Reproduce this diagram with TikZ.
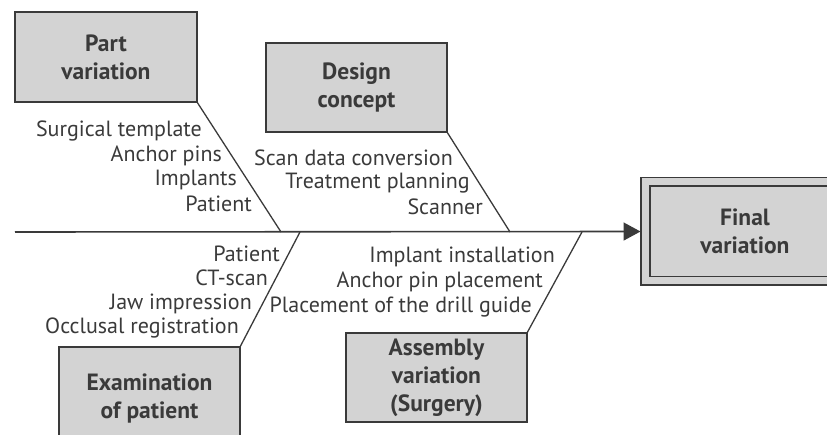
\documentclass[tikz,border=0pt]{standalone}
\usepackage{fontspec}
\setmainfont{PT Sans}
\usepackage{xcolor}
\usetikzlibrary{arrows.meta}

\definecolor{boxgray}{RGB}{211,211,211}
\definecolor{inkgray}{RGB}{58,58,58}

\tikzset{
  cause/.style={draw=inkgray, line width=1.6pt, fill=boxgray, text=inkgray,
    font=\bfseries\fontsize{23.5}{28}\selectfont, align=center, inner sep=0pt,
    outer sep=0pt, minimum width=181pt, minimum height=89pt},
  item/.style={text=inkgray, font=\fontsize{22}{25}\selectfont,
    anchor=base east, inner sep=0pt},
  bone/.style={draw=inkgray, line width=1.3pt},
}

\begin{document}
\begin{tikzpicture}[x=1pt,y=-1pt]
\clip (0,0) rectangle (827,435);

% the four causes
\node (part) at (106,57) [cause, minimum width=182pt, minimum height=90pt] {Part\\variation};
\node (design) at (356.5,87.5) [cause] {Design\\concept};
\node (exam) at (149.5,398) [cause, minimum height=102pt] {Examination\\of patient};
\node (asm) at (436.5,377.5) [cause] {Assembly\\variation\\(Surgery)};

% the effect
\node (final) at (745,231.5) [cause, double=boxgray, double distance=7pt,
  minimum width=199pt, minimum height=99pt] {Final\\variation};

% spine
\coordinate (tail) at (15,232);
\draw[inkgray, line width=1.6pt, shorten >=5pt,
  -{Triangle[length=17pt,width=18pt]}] (tail) -- (final.west);

% bones
\coordinate (p1) at (281,232);
\coordinate (p2) at (510,232);
\coordinate (p3) at (300,232);
\coordinate (p4) at (582,232);
\draw[bone] (part.south east) -- (p1);
\draw[bone] (design.south east) -- (p2);
\draw[bone] (exam.north east) -- (p3);
\draw[bone] (asm.north east) -- (p4);

% part variation
\node (pv1) at (202,137) [item] {Surgical template};
\node (pv2) at (222,162) [item] {Anchor pins};
\node (pv3) at (237,186) [item] {Implants};
\node (pv4) at (252,212) [item] {Patient};

% design concept
\node (dc1) at (453,166) [item] {Scan data conversion};
\node (dc2) at (470,189) [item] {Treatment planning};
\node (dc3) at (483,215) [item] {Scanner};

% examination
\node (ex1) at (280,262) [item] {Patient};
\node (ex2) at (268,286) [item] {CT-scan};
\node (ex3) at (252,310) [item] {Jaw impression};
\node (ex4) at (239,334) [item] {Occlusal registration};

% assembly
\node (as1) at (555,263) [item] {Implant installation};
\node (as2) at (543,288) [item] {Anchor pin placement};
\node (as3) at (532,313) [item] {Placement of the drill guide};
\end{tikzpicture}
\end{document}
